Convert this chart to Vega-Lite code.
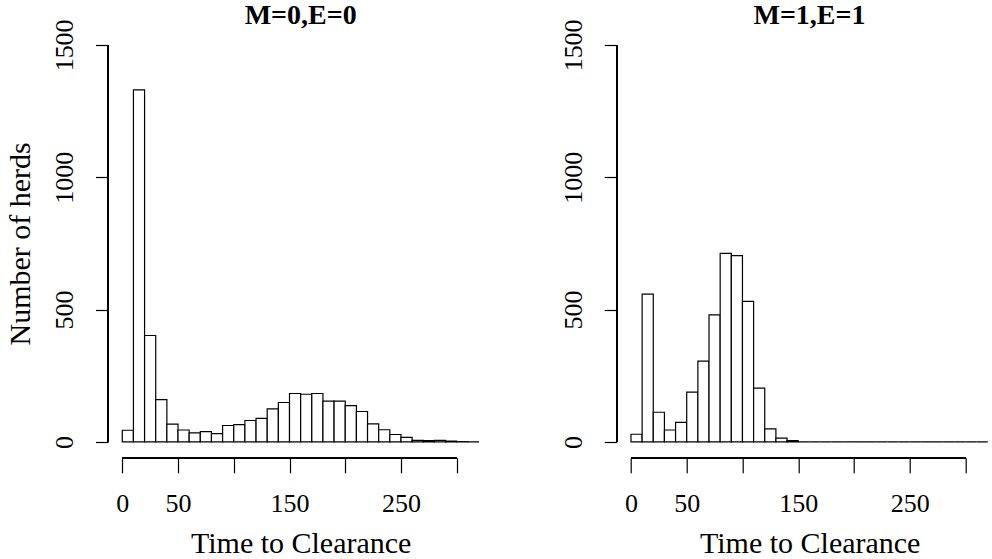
{
  "$schema": "https://vega.github.io/schema/vega-lite/v6.json",
  "background": "white",
  "padding": {"left": 5, "top": 1, "right": 0, "bottom": 0},
  "bounds": "flush",
  "spacing": 122.7,
  "datasets": {
    "herds": [
      {"panel": "M=0,E=0", "start": 0, "end": 10, "count": 44},
      {"panel": "M=0,E=0", "start": 10, "end": 20, "count": 1330},
      {"panel": "M=0,E=0", "start": 20, "end": 30, "count": 402},
      {"panel": "M=0,E=0", "start": 30, "end": 40, "count": 160},
      {"panel": "M=0,E=0", "start": 40, "end": 50, "count": 67},
      {"panel": "M=0,E=0", "start": 50, "end": 60, "count": 45},
      {"panel": "M=0,E=0", "start": 60, "end": 70, "count": 34},
      {"panel": "M=0,E=0", "start": 70, "end": 80, "count": 39},
      {"panel": "M=0,E=0", "start": 80, "end": 90, "count": 31},
      {"panel": "M=0,E=0", "start": 90, "end": 100, "count": 62},
      {"panel": "M=0,E=0", "start": 100, "end": 110, "count": 65},
      {"panel": "M=0,E=0", "start": 110, "end": 120, "count": 81},
      {"panel": "M=0,E=0", "start": 120, "end": 130, "count": 89},
      {"panel": "M=0,E=0", "start": 130, "end": 140, "count": 125},
      {"panel": "M=0,E=0", "start": 140, "end": 150, "count": 149},
      {"panel": "M=0,E=0", "start": 150, "end": 160, "count": 183},
      {"panel": "M=0,E=0", "start": 160, "end": 170, "count": 180},
      {"panel": "M=0,E=0", "start": 170, "end": 180, "count": 183},
      {"panel": "M=0,E=0", "start": 180, "end": 190, "count": 154},
      {"panel": "M=0,E=0", "start": 190, "end": 200, "count": 154},
      {"panel": "M=0,E=0", "start": 200, "end": 210, "count": 137},
      {"panel": "M=0,E=0", "start": 210, "end": 220, "count": 115},
      {"panel": "M=0,E=0", "start": 220, "end": 230, "count": 68},
      {"panel": "M=0,E=0", "start": 230, "end": 240, "count": 46},
      {"panel": "M=0,E=0", "start": 240, "end": 250, "count": 28},
      {"panel": "M=0,E=0", "start": 250, "end": 260, "count": 17},
      {"panel": "M=0,E=0", "start": 260, "end": 270, "count": 6},
      {"panel": "M=0,E=0", "start": 270, "end": 280, "count": 5},
      {"panel": "M=0,E=0", "start": 280, "end": 290, "count": 6},
      {"panel": "M=0,E=0", "start": 290, "end": 300, "count": 3},
      {"panel": "M=0,E=0", "start": 300, "end": 310, "count": 1},
      {"panel": "M=0,E=0", "start": 310, "end": 320, "count": 0},
      {"panel": "M=1,E=1", "start": 0, "end": 10, "count": 29},
      {"panel": "M=1,E=1", "start": 10, "end": 20, "count": 558},
      {"panel": "M=1,E=1", "start": 20, "end": 30, "count": 112},
      {"panel": "M=1,E=1", "start": 30, "end": 40, "count": 45},
      {"panel": "M=1,E=1", "start": 40, "end": 50, "count": 74},
      {"panel": "M=1,E=1", "start": 50, "end": 60, "count": 188},
      {"panel": "M=1,E=1", "start": 60, "end": 70, "count": 305},
      {"panel": "M=1,E=1", "start": 70, "end": 80, "count": 480},
      {"panel": "M=1,E=1", "start": 80, "end": 90, "count": 712},
      {"panel": "M=1,E=1", "start": 90, "end": 100, "count": 704},
      {"panel": "M=1,E=1", "start": 100, "end": 110, "count": 531},
      {"panel": "M=1,E=1", "start": 110, "end": 120, "count": 203},
      {"panel": "M=1,E=1", "start": 120, "end": 130, "count": 49},
      {"panel": "M=1,E=1", "start": 130, "end": 140, "count": 14},
      {"panel": "M=1,E=1", "start": 140, "end": 150, "count": 5},
      {"panel": "M=1,E=1", "start": 150, "end": 160, "count": 0},
      {"panel": "M=1,E=1", "start": 160, "end": 170, "count": 0},
      {"panel": "M=1,E=1", "start": 170, "end": 180, "count": 0},
      {"panel": "M=1,E=1", "start": 180, "end": 190, "count": 0},
      {"panel": "M=1,E=1", "start": 190, "end": 200, "count": 0},
      {"panel": "M=1,E=1", "start": 200, "end": 210, "count": 0},
      {"panel": "M=1,E=1", "start": 210, "end": 220, "count": 0},
      {"panel": "M=1,E=1", "start": 220, "end": 230, "count": 0},
      {"panel": "M=1,E=1", "start": 230, "end": 240, "count": 0},
      {"panel": "M=1,E=1", "start": 240, "end": 250, "count": 0},
      {"panel": "M=1,E=1", "start": 250, "end": 260, "count": 0},
      {"panel": "M=1,E=1", "start": 260, "end": 270, "count": 0},
      {"panel": "M=1,E=1", "start": 270, "end": 280, "count": 0},
      {"panel": "M=1,E=1", "start": 280, "end": 290, "count": 0},
      {"panel": "M=1,E=1", "start": 290, "end": 300, "count": 0},
      {"panel": "M=1,E=1", "start": 300, "end": 310, "count": 0},
      {"panel": "M=1,E=1", "start": 310, "end": 320, "count": 0}
    ]
  },
  "hconcat": [
    {
      "width": 385.3,
      "height": 428.8,
      "title": {"text": "M=0,E=0"},
      "data": {"name": "herds"},
      "transform": [{"filter": "datum.panel == 'M=0,E=0'"}],
      "layer": [
        {
          "mark": {"type": "rect", "fill": "white", "stroke": "black", "strokeWidth": 1.2},
          "encoding": {
            "x": {"field": "start", "type": "quantitative",
                  "scale": {"domain": [-12.8, 332.8], "nice": false, "zero": false},
                  "axis": {"title": "Time to Clearance", "values": [0, 50, 100, 150, 200, 250, 300],
                           "labelExpr": "(datum.value == 100 || datum.value == 200 || datum.value == 300) ? '' : datum.label"}},
            "x2": {"field": "end"},
            "y": {"field": "count", "type": "quantitative",
                  "scale": {"domain": [-60, 1560], "nice": false, "zero": false},
                  "axis": {"title": "Number of herds", "values": [0, 500, 1000, 1500], "format": "d"}},
            "y2": {"datum": 0}
          }
        },
        {
          "mark": {"type": "rule", "color": "black", "strokeWidth": 1.2},
          "encoding": {"x": {"datum": 0}, "x2": {"datum": 300}, "y": {"datum": -60}}
        },
        {
          "mark": {"type": "rule", "color": "black", "strokeWidth": 1.2},
          "encoding": {"x": {"datum": -12.8}, "y": {"datum": 0}, "y2": {"datum": 1500}}
        }
      ]
    },
    {
      "width": 375.5,
      "height": 428.8,
      "title": {"text": "M=1,E=1", "dx": 5},
      "data": {"name": "herds"},
      "transform": [{"filter": "datum.panel == 'M=1,E=1'"}],
      "layer": [
        {
          "mark": {"type": "rect", "fill": "white", "stroke": "black", "strokeWidth": 1.2},
          "encoding": {
            "x": {"field": "start", "type": "quantitative",
                  "scale": {"domain": [-12.8, 324], "nice": false, "zero": false},
                  "axis": {"title": "Time to Clearance", "titleX": 193, "values": [0, 50, 100, 150, 200, 250, 300],
                           "labelExpr": "(datum.value == 100 || datum.value == 200 || datum.value == 300) ? '' : datum.label"}},
            "x2": {"field": "end"},
            "y": {"field": "count", "type": "quantitative",
                  "scale": {"domain": [-60, 1560], "nice": false, "zero": false},
                  "axis": {"title": null, "values": [0, 500, 1000, 1500], "format": "d"}},
            "y2": {"datum": 0}
          }
        },
        {
          "mark": {"type": "rule", "color": "black", "strokeWidth": 1.2},
          "encoding": {"x": {"datum": 0}, "x2": {"datum": 300}, "y": {"datum": -60}}
        },
        {
          "mark": {"type": "rule", "color": "black", "strokeWidth": 1.2},
          "encoding": {"x": {"datum": -12.8}, "y": {"datum": 0}, "y2": {"datum": 1500}}
        }
      ]
    }
  ],
  "config": {
    "view": {"stroke": null},
    "font": "Liberation Serif",
    "title": {"font": "Liberation Serif", "fontSize": 28, "fontWeight": "bold", "color": "black",
              "baseline": "alphabetic", "offset": -11, "anchor": "middle"},
    "axis": {"domain": false, "grid": false, "tickColor": "black", "tickWidth": 1.2,
             "labelFont": "Liberation Serif", "labelFontSize": 26, "labelColor": "black",
             "labelOverlap": false, "labelFlush": false, "labelBound": false,
             "titleFont": "Liberation Serif", "titleFontSize": 30, "titleFontWeight": "normal", "titleColor": "black"},
    "axisX": {"tickSize": 15, "labelPadding": 18, "titlePadding": 12, "labelAngle": 0},
    "axisY": {"tickSize": 12.5, "labelPadding": 18, "titlePadding": 16,
              "labelAngle": -90, "labelAlign": "center", "labelBaseline": "bottom"}
  }
}
